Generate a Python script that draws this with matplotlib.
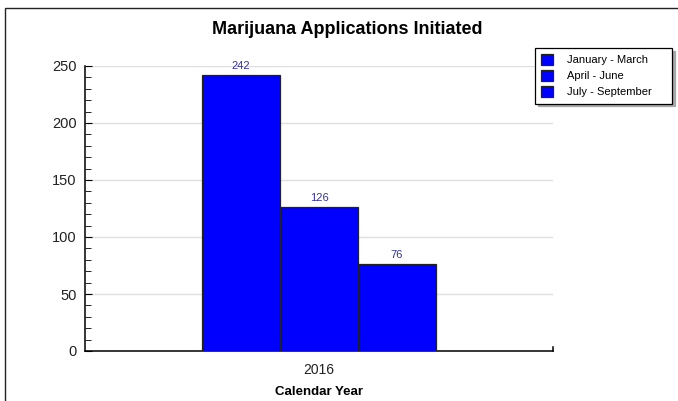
import matplotlib.pyplot as plt
from matplotlib.patches import Rectangle
from matplotlib.ticker import MultipleLocator

plt.rcParams['font.family'] = ['Liberation Sans', 'DejaVu Sans']

years = ['2016']
quarters = ['January - March', 'April - June', 'July - September']
counts = [242, 126, 76]

fig = plt.figure(figsize=(6.78, 4.01), dpi=100)
ax = fig.add_axes([85 / 678, 1 - 351 / 401, 468 / 678, 285 / 401])

# outer border (only top and left visible in the original)
fig.patches.append(Rectangle((5 / 678, -0.1), 1.1, 1 - 8 / 401 + 0.1,
                             transform=fig.transFigure, fill=False,
                             edgecolor='#222222', linewidth=1.0))

w = 1 / 6
for i, (q, c) in enumerate(zip(quarters, counts)):
    xpos = (i - 1) * w
    ax.bar(xpos, c, width=w, color='#0000ff', edgecolor='#222222',
           linewidth=0.9, label=q, zorder=3)
    ax.text(xpos, c + 3.5, str(c), ha='center', va='bottom',
            fontsize=8, color='#333399')

ax.set_xlim(-0.5, 0.5)
ax.set_ylim(0, 250)
ax.set_xticks([0])
ax.set_xticklabels(years, fontsize=10, color='#222222')
ax.tick_params(axis='x', length=0, pad=9)
ax.yaxis.set_major_locator(MultipleLocator(50))
ax.yaxis.set_minor_locator(MultipleLocator(10))
ax.tick_params(axis='y', which='major', direction='in', length=5,
               labelsize=10.5, pad=6, labelcolor='#222222')
ax.tick_params(axis='y', which='minor', direction='in', length=4)
ax.grid(axis='y', color='#e0e0e0', linewidth=1, zorder=0)
ax.spines['top'].set_visible(False)
ax.spines['right'].set_visible(False)
ax.spines['left'].set_linewidth(1.1)
ax.spines['bottom'].set_linewidth(1.1)
# small tick at right end of x axis
ax.plot([0.5, 0.5], [0, 3.5], color='black', linewidth=1.1,
        clip_on=False, zorder=4)

ax.set_xlabel('Calendar Year', fontsize=9.5, fontweight='bold', labelpad=6)
fig.text(347 / 678, 1 - 30 / 401, 'Marijuana Applications Initiated',
         ha='center', va='center', fontsize=13, fontweight='bold')

leg = ax.legend(loc='upper left',
                bbox_to_anchor=(535 / 678, 1 - 106 / 401, 137 / 678, 58 / 401),
                bbox_transform=fig.transFigure, mode='expand', fontsize=8,
                frameon=True, fancybox=False,
                shadow={'color': '#a8a8a8', 'alpha': 1, 'ox': 2, 'oy': -2},
                handlelength=1.1, handleheight=1.1, handletextpad=1.2,
                labelspacing=0.45, borderpad=0.55, borderaxespad=0)
leg.get_frame().set_edgecolor('black')
leg.get_frame().set_linewidth(0.9)

fig.savefig('out.png', dpi=100)
